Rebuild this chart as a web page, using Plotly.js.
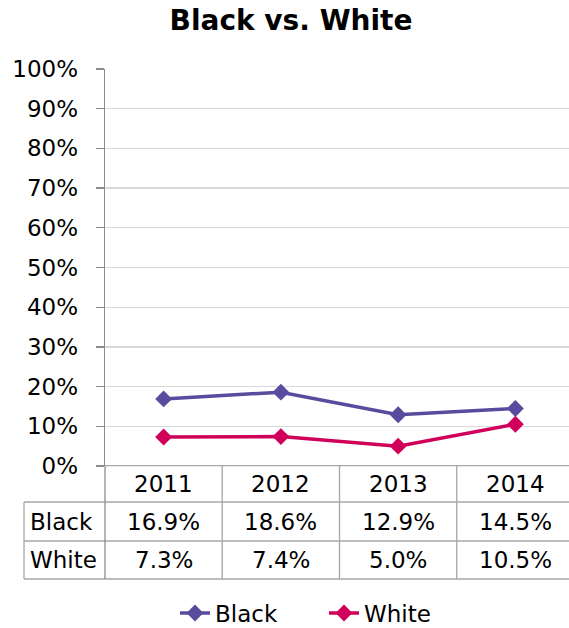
<!DOCTYPE html>
<html>
<head>
<meta charset="utf-8">
<script src="https://cdn.plot.ly/plotly-3.0.1.min.js"></script>
<style>html,body{margin:0;padding:0;background:#fff;overflow:hidden}</style>
</head>
<body>
<div id="chart" style="width:569px;height:628px"></div>
<script>
const years = ['2011', '2012', '2013', '2014'];
const seriesNames = ['Black', 'White'];
const blackValues = [0.169, 0.186, 0.129, 0.145];
const whiteValues = [0.073, 0.074, 0.050, 0.105];
const seriesColors = ['#5b4b9e', '#d0005a'];

const allValues = [blackValues, whiteValues];
const FONT = 'DejaVu Sans, Verdana, sans-serif';
const FS = 23;
const W = 569, H = 628, ML = 105, MT = 69, MB = 162;
const PH = H - MT - MB, PW = W - ML;
const py = pix => (H - MB - pix) / PH;   // pixel y -> paper y
const px = pix => (pix - ML) / PW;        // pixel x -> paper x

const xs = years.map((_, i) => i);
const traces = allValues.map((vals, k) => ({
  type: 'scatter', mode: 'lines+markers', name: seriesNames[k],
  x: xs, y: vals,
  line: {color: seriesColors[k], width: 3.5},
  marker: {symbol: 'diamond', size: 13, color: seriesColors[k]},
  cliponaxis: false
}));

const tableColor = '#a6a6a6';
const rowEdges = [465.7, 502, 541, 579];
const shapes = [];
shapes.push({type:'line', xref:'paper', yref:'paper', x0:0, x1:1, y0:py(rowEdges[0]), y1:py(rowEdges[0]), line:{color:tableColor, width:1.3}});
for (let r = 1; r < rowEdges.length; r++) {
  shapes.push({type:'line', xref:'paper', yref:'paper', x0:px(24), x1:1, y0:py(rowEdges[r]), y1:py(rowEdges[r]), line:{color:tableColor, width:1.3}});
}
shapes.push({type:'line', xref:'paper', yref:'paper', x0:px(24), x1:px(24), y0:py(rowEdges[1]), y1:py(rowEdges[3]), line:{color:tableColor, width:1.3}});
shapes.push({type:'line', xref:'paper', yref:'paper', x0:0, x1:0, y0:py(rowEdges[0]), y1:py(rowEdges[3]), line:{color:'#8c8c8c', width:1.3}});
for (let i = 0; i < years.length - 1; i++) {
  shapes.push({type:'line', xref:'x', yref:'paper', x0:i + 0.5, x1:i + 0.5, y0:py(rowEdges[0]), y1:py(rowEdges[3]), line:{color:tableColor, width:1.3}});
}

const annotations = [];
const rowCenter = r => py((rowEdges[r] + rowEdges[r + 1]) / 2);
years.forEach((y, i) => {
  annotations.push({xref:'x', yref:'paper', x:i, y:rowCenter(0), text:y, showarrow:false, xanchor:'center', yanchor:'middle', font:{family:FONT, size:FS, color:'#000'}});
});
allValues.forEach((vals, k) => {
  annotations.push({xref:'paper', yref:'paper', x:px(28), y:rowCenter(k + 1), text:seriesNames[k], showarrow:false, xanchor:'left', yanchor:'middle', font:{family:FONT, size:FS, color:'#000'}});
  vals.forEach((v, i) => {
    annotations.push({xref:'x', yref:'paper', x:i, y:rowCenter(k + 1), text:(v * 100).toFixed(1) + '%', showarrow:false, xanchor:'center', yanchor:'middle', font:{family:FONT, size:FS, color:'#000'}});
  });
});

const layout = {
  width: W, height: H,
  margin: {l: ML, r: 0, t: MT, b: MB, pad: 0, autoexpand: false},
  paper_bgcolor: '#fff', plot_bgcolor: '#fff',
  font: {family: FONT, size: FS, color: '#000'},
  title: {text: '<b>Black vs. White</b>', font: {family: FONT, size: 28, color: '#000'},
          xref: 'container', yref: 'container', x: 291 / W, y: 1 - 20 / H, xanchor: 'center', yanchor: 'middle'},
  xaxis: {range: [-0.5, -0.5 + 4 * PW / 469], showticklabels: false, showgrid: false, zeroline: false,
          showline: false, ticks: '', fixedrange: true},
  yaxis: {range: [0, 1], dtick: 0.1, tick0: 0, tickformat: '.0%', showgrid: true, gridcolor: '#d9d9d9', gridwidth: 1.3,
          zeroline: false, showline: true, linecolor: '#8c8c8c', linewidth: 1.3, ticks: 'outside', ticklen: 8,
          tickcolor: '#8c8c8c', tickwidth: 1.3, ticklabelstandoff: 13, tickfont: {family: FONT, size: FS, color: '#000'}},
  showlegend: true,
  legend: {orientation: 'h', x: px(175), xanchor: 'left', y: py(613), yanchor: 'middle',
           font: {family: FONT, size: FS, color: '#000'}, bgcolor: 'rgba(0,0,0,0)', itemwidth: 30,
           entrywidth: 104},
  shapes: shapes,
  annotations: annotations
};

Plotly.newPlot('chart', traces, layout, {displayModeBar: false, staticPlot: true});
</script>
</body>
</html>
